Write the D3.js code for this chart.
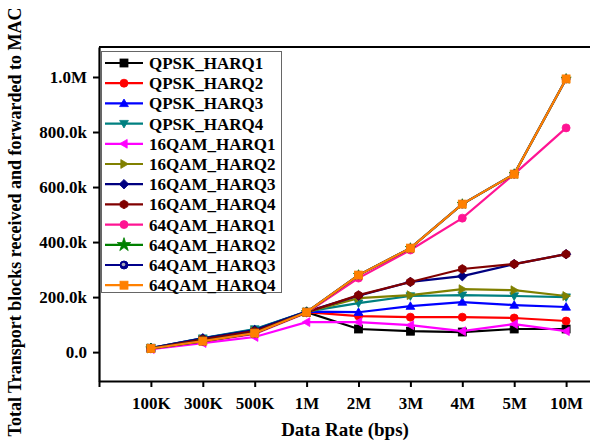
<!DOCTYPE html>
<html><head><meta charset="utf-8">
<script src="https://cdn.jsdelivr.net/npm/d3@7"></script>
<style>body{margin:0;background:#fff}svg{display:block}text{font-family:"Liberation Serif","Times New Roman",serif;font-weight:bold;fill:#000}</style>
</head><body><svg id="c" width="590" height="441"></svg>
<script>
const categories = ["100K","300K","500K","1M","2M","3M","4M","5M","10M"];
const seriesNames = ["QPSK_HARQ1","QPSK_HARQ2","QPSK_HARQ3","QPSK_HARQ4","16QAM_HARQ1","16QAM_HARQ2","16QAM_HARQ3","16QAM_HARQ4","64QAM_HARQ1","64QAM_HARQ2","64QAM_HARQ3","64QAM_HARQ4"];
const colors = ["#000000","#ff0000","#0000ff","#008080","#ff00ff","#808000","#000080","#800000","#ff1493","#008000","#00008b","#ff8000"];
const markers = ["square","circle","triUp","triDown","triLeft","triRight","diamond","hexagon","circle","star","circleHi","square"];
const QPSK_HARQ1  = [14000,44000,74000,145000, 84000, 76000, 73000, 84000, 84000];
const QPSK_HARQ2  = [14000,44000,72000,145000,131000,127000,127000,124000,113000];
const QPSK_HARQ3  = [15000,50000,82000,147000,145000,167000,182000,171000,164000];
const QPSK_HARQ4  = [15000,51000,84000,147000,178000,204000,207000,204000,200000];
const QAM16_HARQ1 = [11000,33000,55000,109000,109000, 98000, 76000,102000, 76000];
const QAM16_HARQ2 = [14000,46000,76000,145000,196000,207000,229000,225000,204000];
const QAM16_HARQ3 = [15000,50000,80000,147000,205000,255000,276000,320000,356000];
const QAM16_HARQ4 = [14000,46000,76000,145000,207000,255000,302000,320000,356000];
const QAM64_HARQ1 = [12000,38000,66000,143000,269000,371000,487000,647000,815000];
const QAM64_HARQ2 = [13000,40000,69000,145000,280000,378000,538000,647000,993000];
const QAM64_HARQ3 = [13000,40000,69000,145000,280000,378000,538000,647000,993000];
const QAM64_HARQ4 = [13000,40000,69000,145000,280000,378000,538000,647000,993000];
const seriesValues = [QPSK_HARQ1,QPSK_HARQ2,QPSK_HARQ3,QPSK_HARQ4,QAM16_HARQ1,QAM16_HARQ2,QAM16_HARQ3,QAM16_HARQ4,QAM64_HARQ1,QAM64_HARQ2,QAM64_HARQ3,QAM64_HARQ4];
const yTicks = [0,200000,400000,600000,800000,1000000];
const yTickLabels = ["0.0","200.0k","400.0k","600.0k","800.0k","1.0M"];
const xTitle = "Data Rate (bps)";
const yTitle = "Total Transport blocks received and forwarded to MAC";

const svg = d3.select("#c");
const x = d3.scaleLinear().domain([0, categories.length+1]).range([99, 618]);
const y = d3.scaleLinear().domain([-105000, 1109000]).range([381, 47]);

// frame
svg.append("line").attr("x1",99).attr("x2",620).attr("y1",47).attr("y2",47).attr("stroke","#000").attr("stroke-width",2.2);
svg.append("line").attr("x1",618).attr("x2",618).attr("y1",47).attr("y2",381).attr("stroke","#000").attr("stroke-width",2);

// axes
const xAxis = d3.axisBottom(x).tickValues(d3.range(0, categories.length+1)).tickSizeInner(6).tickSizeOuter(0)
  .tickFormat(i => i>=1 && i<=categories.length ? categories[i-1] : "");
const gx = svg.append("g").attr("transform","translate(0,381)").call(xAxis);
gx.select(".domain").attr("stroke-width",2.2);
gx.selectAll(".tick line").attr("stroke-width",2);
gx.selectAll(".tick text").attr("font-size",17).attr("y",16).attr("dy","0.71em").attr("font-family","Liberation Serif").attr("font-weight","bold");

const yAxis = d3.axisLeft(y).tickValues(yTicks).tickSizeInner(6).tickSizeOuter(0)
  .tickFormat((d,i)=>yTickLabels[i]);
const gy = svg.append("g").attr("transform","translate(99,0)").call(yAxis);
gy.select(".domain").attr("stroke-width",2.2);
gy.selectAll(".tick line").attr("stroke-width",2);
gy.selectAll(".tick text").attr("font-size",17).attr("x",-12).attr("font-family","Liberation Serif").attr("font-weight","bold");

svg.append("text").attr("x",345).attr("y",436).attr("text-anchor","middle").attr("font-size",19).text(xTitle);
svg.append("text").attr("transform","translate(21,222) rotate(-90)").attr("text-anchor","middle").attr("font-size",18).text(yTitle);

function drawMarker(g, type, color, s) {
  const r = s/2;
  let el;
  switch(type){
    case "square": el = g.append("rect").attr("x",-r).attr("y",-r).attr("width",s).attr("height",s); break;
    case "circle": el = g.append("circle").attr("r",r); break;
    case "circleHi":
      g.append("circle").attr("r",r).attr("fill",color).attr("stroke",color);
      g.append("circle").attr("r",r*0.45).attr("cx",-0.5).attr("cy",-0.5).attr("fill","#aab");
      return;
    case "triUp": el = g.append("path").attr("d",`M0,${-r*1.1}L${r*1.1},${r*0.8}L${-r*1.1},${r*0.8}Z`); break;
    case "triDown": el = g.append("path").attr("d",`M0,${r*1.1}L${r*1.1},${-r*0.8}L${-r*1.1},${-r*0.8}Z`); break;
    case "triLeft": el = g.append("path").attr("d",`M${-r*1.1},0L${r*0.8},${-r*1.1}L${r*0.8},${r*1.1}Z`); break;
    case "triRight": el = g.append("path").attr("d",`M${r*1.1},0L${-r*0.8},${-r*1.1}L${-r*0.8},${r*1.1}Z`); break;
    case "diamond": el = g.append("path").attr("d",`M0,${-r*1.2}L${r*1.2},0L0,${r*1.2}L${-r*1.2},0Z`); break;
    case "hexagon": el = g.append("path").attr("d", d3.range(6).map((k,i)=>{const a=Math.PI/3*k+Math.PI/6;return (i?"L":"M")+(r*1.1*Math.cos(a))+","+(r*1.1*Math.sin(a));}).join("")+"Z"); break;
    case "star": el = g.append("path").attr("d", d3.symbol().type(d3.symbolStar).size(s*s*0.9)()); break;
  }
  el.attr("fill",color).attr("stroke",color).attr("stroke-width",0.8);
}

const line = d3.line().x((d,i)=>x(i+1)).y(d=>y(d));
seriesValues.forEach((vals, si) => {
  const g = svg.append("g");
  g.append("path").attr("d", line(vals)).attr("fill","none").attr("stroke",colors[si]).attr("stroke-width",2.2);
  vals.forEach((v,i)=>{
    const mg = g.append("g").attr("transform",`translate(${x(i+1)},${y(v)})`);
    drawMarker(mg, markers[si], colors[si], markers[si]==="star" ? 6 : 8);
  });
});

// legend
const lg = svg.append("g");
lg.append("rect").attr("x",101.5).attr("y",51.5).attr("width",180).attr("height",241).attr("fill","#fff").attr("stroke","#666").attr("stroke-width",1);
seriesNames.forEach((n,i)=>{
  const yy = 63 + i*20.2;
  const e = lg.append("g").attr("transform",`translate(0,${yy})`);
  e.append("line").attr("x1",105).attr("x2",143).attr("y1",0).attr("y2",0).attr("stroke",colors[i]).attr("stroke-width",2.2);
  const mg = e.append("g").attr("transform","translate(124,0)");
  drawMarker(mg, markers[i], colors[i], 8);
  e.append("text").attr("x",149).attr("y",0).attr("dy","0.35em").attr("font-size",17).text(n);
});
</script></body></html>
